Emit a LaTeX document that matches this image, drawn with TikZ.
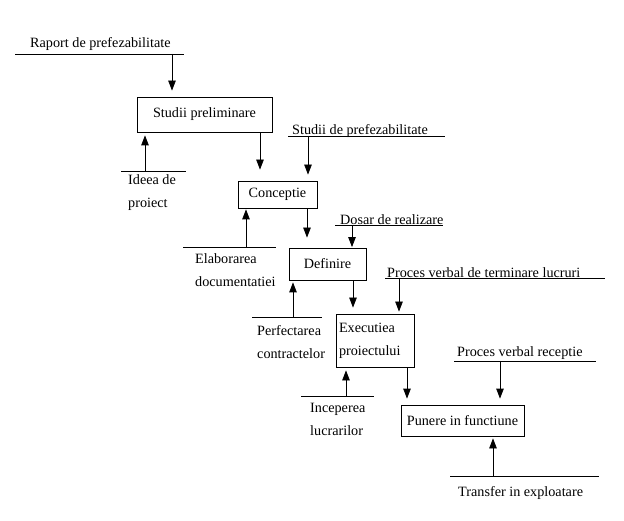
\documentclass[tikz,border=0pt]{standalone}
\usepackage{fontspec}
\setmainfont{Liberation Serif}
\usetikzlibrary{arrows.meta}
\begin{document}
\begin{tikzpicture}[x=1pt,y=-1pt,
  txt/.style={font=\fontsize{14.2}{23}\selectfont},
  box/.style={draw,line width=0.8pt,inner sep=0pt,txt},
  lbl/.style={inner sep=0pt,anchor=west,align=left,txt},
  rule/.style={line width=0.8pt},
  arr/.style={-{Triangle[width=7.5pt,length=10pt]},line width=0.8pt}]
\useasboundingbox (0,0) rectangle (624,521);
% process boxes
\node[box,minimum width=135pt,minimum height=35pt] (sp) at (204.5,114.5) {Studii preliminare};
\node[box,minimum width=79pt,minimum height=27pt] (cp) at (277.5,194.5) {Conceptie};
\node[box,minimum width=77pt,minimum height=32pt] (dp) at (327.5,264) {Definire};
\node[box,minimum width=78pt,minimum height=53pt,text width=72pt,align=left] (ep) at (375,340.5) {Executiea\\proiectului};
\node[box,minimum width=123pt,minimum height=31pt] (pp) at (462.5,420.5) {Punere in functiune};
% input / output labels
\node[lbl] (l1) at (30,44.5) {Raport de prefezabilitate};
\node[lbl] (l2) at (128,193) {Ideea de\\proiect};
\node[lbl] (l3) at (292,131) {Studii de prefezabilitate};
\node[lbl] (l4) at (195,270.5) {Elaborarea\\documentatiei};
\node[lbl] (l5) at (340,220) {Dosar de realizare};
\node[lbl] (l6) at (257,342) {Perfectarea\\contractelor};
\node[lbl] (l7) at (387,273) {Proces verbal de terminare lucruri};
\node[lbl] (l8) at (310,419.5) {Inceperea\\lucrarilor};
\node[lbl] (l9) at (457,353.5) {Proces verbal receptie};
\node[lbl] (l10) at (458,493.5) {Transfer in exploatare};
% rules
\draw[rule] (15,54) -- (184,54);
\draw[rule] (121,171) -- (186,171);
\draw[rule] (288,136) -- (445,136);
\draw[rule] (183,247) -- (276,247);
\draw[rule] (335,225) -- (443,225);
\draw[rule] (252,317) -- (322,317);
\draw[rule] (385,278) -- (605,278);
\draw[rule] (301,396) -- (374,396);
\draw[rule] (454,361) -- (596,361);
\draw[rule] (450,476) -- (599,476);
% arrow origins on the rules
\coordinate (a1) at (172,54);
\coordinate (a2) at (145,171);
\coordinate (a3) at (308,136);
\coordinate (a4) at (246,247);
\coordinate (a5) at (352,225);
\coordinate (a6) at (293,317);
\coordinate (a7) at (399,278);
\coordinate (a8) at (346,396);
\coordinate (a9) at (500,361);
\coordinate (a10) at (493,476);
\coordinate (x1) at (260,0);
\coordinate (x2) at (307,0);
\coordinate (x3) at (353,0);
\coordinate (x4) at (407,0);
% connectors
\draw[arr,shorten >=6pt] (a1) -- (sp.north -| a1);
\draw[arr,shorten >=3pt] (a2) -- (sp.south -| a2);
\draw[arr,shorten >=11pt] (sp.south -| x1) -- (cp.north -| x1);
\draw[arr,shorten >=6pt] (a3) -- (cp.north -| a3);
\draw[arr,shorten >=1pt] (a4) -- (cp.south -| a4);
\draw[arr,shorten >=10pt] (cp.south -| x2) -- (dp.north -| x2);
\draw[arr,shorten >=0.5pt] (a5) -- (dp.north -| a5);
\draw[arr,shorten >=2pt] (a6) -- (dp.south -| a6);
\draw[arr,shorten >=6pt] (dp.south -| x3) -- (ep.north -| x3);
\draw[arr,shorten >=2pt] (a7) -- (ep.north -| a7);
\draw[arr,shorten >=3pt] (a8) -- (ep.south -| a8);
\draw[arr,shorten >=6pt] (ep.south -| x4) -- (pp.north -| x4);
\draw[arr,shorten >=6pt] (a9) -- (pp.north -| a9);
\draw[arr,shorten >=2pt] (a10) -- (pp.south -| a10);
\end{tikzpicture}
\end{document}
